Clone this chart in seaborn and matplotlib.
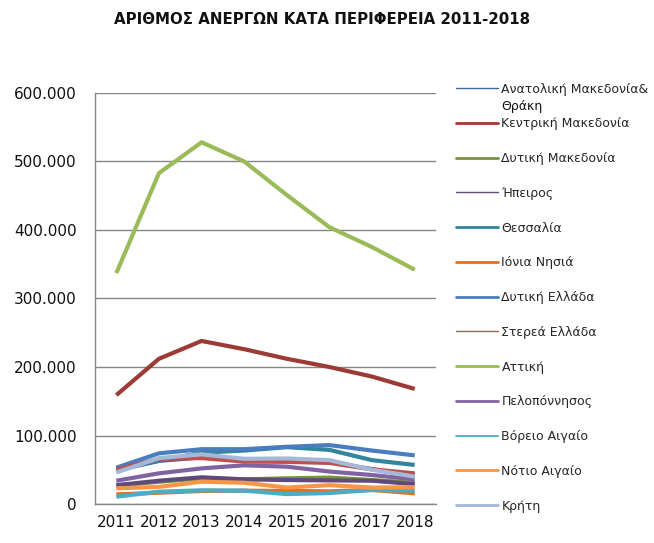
import matplotlib
matplotlib.use("Agg")
import matplotlib.pyplot as plt
from matplotlib.lines import Line2D
from matplotlib.ticker import FuncFormatter, MultipleLocator, FixedLocator
import seaborn as sns
import pandas as pd

years = [2011, 2012, 2013, 2014, 2015, 2016, 2017, 2018]

regions = [
    "Ανατολική Μακεδονία&Θράκη",
    "Κεντρική Μακεδονία",
    "Δυτική Μακεδονία",
    "Ήπειρος",
    "Θεσσαλία",
    "Ιόνια Νησιά",
    "Δυτική Ελλάδα",
    "Στερεά Ελλάδα",
    "Αττική",
    "Πελοπόννησος",
    "Βόρειο Αιγαίο",
    "Νότιο Αιγαίο",
    "Κρήτη",
]

anatoliki_makedonia = [49000, 63000, 68000, 63000, 63000, 61000, 51000, 42000]
kentriki_makedonia = [159000, 212000, 238000, 226000, 212000, 200000, 186000, 168000]
dytiki_makedonia = [27000, 32500, 37500, 36000, 37500, 38500, 35000, 31000]
ipeiros = [27500, 34000, 39000, 36000, 35000, 34500, 34000, 29000]
thessalia = [51000, 63000, 75000, 78000, 83000, 79000, 64000, 57000]
ionia_nisia = [14000, 16500, 19000, 19500, 19000, 18500, 20500, 15600]
dytiki_ellada = [53000, 74000, 80000, 80000, 83500, 86000, 78000, 71000]
sterea_ellada = [50000, 66000, 67000, 62000, 61500, 60000, 50500, 44800]
attiki = [337000, 483000, 528000, 500000, 451000, 404000, 375000, 342000]
peloponnisos = [34000, 44800, 52000, 56500, 54500, 47400, 42300, 36000]
voreio_aigaio = [10700, 18000, 20000, 19500, 14500, 16000, 20500, 19500]
notio_aigaio = [22900, 25000, 32600, 31000, 24000, 27500, 24000, 24500]
kriti = [46000, 67000, 72500, 66000, 66500, 64000, 50000, 40000]

series_values = [
    anatoliki_makedonia, kentriki_makedonia, dytiki_makedonia, ipeiros,
    thessalia, ionia_nisia, dytiki_ellada, sterea_ellada, attiki,
    peloponnisos, voreio_aigaio, notio_aigaio, kriti,
]

colors = [
    "#3F67A0", "#9C3A35", "#77933C", "#604A7B", "#31859C", "#E0701E",
    "#4A7DC0", "#C0504D", "#9BBB59", "#8064A2", "#4BACC6", "#F79646",
    "#A5B8D8",
]
legend_widths = [1.0, 2.0, 2.0, 1.0, 2.0, 2.0, 2.0, 1.0, 2.0, 2.0, 1.3, 2.0, 2.0]

rows = []
for name, vals in zip(regions, series_values):
    for i, v in enumerate(vals):
        rows.append({"idx": i, "region": name, "value": v})
df = pd.DataFrame(rows)

sns.set_style("white")
plt.rcParams["font.family"] = ["DejaVu Sans"]

fig = plt.figure(figsize=(6.54, 5.43), dpi=100)
ax = fig.add_axes([0.1453, 0.0718, 0.5214, 0.757])

sns.lineplot(
    data=df, x="idx", y="value", hue="region", hue_order=regions,
    palette=dict(zip(regions, colors)), linewidth=3.0, legend=False,
    ax=ax, solid_joinstyle="round", solid_capstyle="butt",
)

grid_c = "#868686"
ax.set_xlim(-0.5, len(years) - 0.5)
ax.set_ylim(0, 600000)
ax.yaxis.set_major_locator(MultipleLocator(100000))
ax.yaxis.set_major_formatter(
    FuncFormatter(lambda v, _: f"{v:,.0f}".replace(",", "."))
)
ax.grid(axis="y", color=grid_c, linewidth=1.0)
ax.grid(axis="x", visible=False)
ax.set_axisbelow(True)

ax.xaxis.set_major_locator(FixedLocator(range(len(years))))
ax.set_xticklabels([str(y) for y in years])
ax.xaxis.set_minor_locator(FixedLocator([i - 0.5 for i in range(len(years) + 1)]))
ax.tick_params(axis="x", which="major", length=0, labelsize=11, pad=8,
               labelcolor="#111111")
ax.tick_params(axis="x", which="minor", length=6, width=1, color=grid_c,
               direction="out")
ax.tick_params(axis="y", length=6, width=1, color=grid_c, direction="out",
               labelsize=11, labelcolor="#111111", pad=7)
ax.set_xlabel("")
ax.set_ylabel("")

for side in ("top", "right"):
    ax.spines[side].set_visible(False)
for side in ("left", "bottom"):
    ax.spines[side].set_color(grid_c)
    ax.spines[side].set_linewidth(1.0)

# Legend: the first region name wraps onto a second line below its entry
legend_labels = ["Ανατολική Μακεδονία&"] + regions[1:]
handles = [
    Line2D([], [], color=c, linewidth=w) for c, w in zip(colors, legend_widths)
]
leg = fig.legend(
    handles, legend_labels, loc="upper left", bbox_to_anchor=(0.698, 0.848),
    frameon=False, fontsize=9, handlelength=3.3, handletextpad=0.3,
    labelspacing=1.74, borderaxespad=0, borderpad=0,
)
fig.canvas.draw()
first = leg.get_texts()[0].get_window_extent()
fig.text(first.x0, first.y0 - 4, "Θράκη", transform=None,
         ha="left", va="top", fontsize=9, color="#111111")

fig.text(0.492, 1 - 20 / 543, "ΑΡΙΘΜΟΣ ΑΝΕΡΓΩΝ ΚΑΤΑ ΠΕΡΙΦΕΡΕΙΑ 2011-2018",
         ha="center", va="center", fontsize=10.8, fontweight="bold",
         color="#111111")

fig.savefig("out.png", dpi=100)
